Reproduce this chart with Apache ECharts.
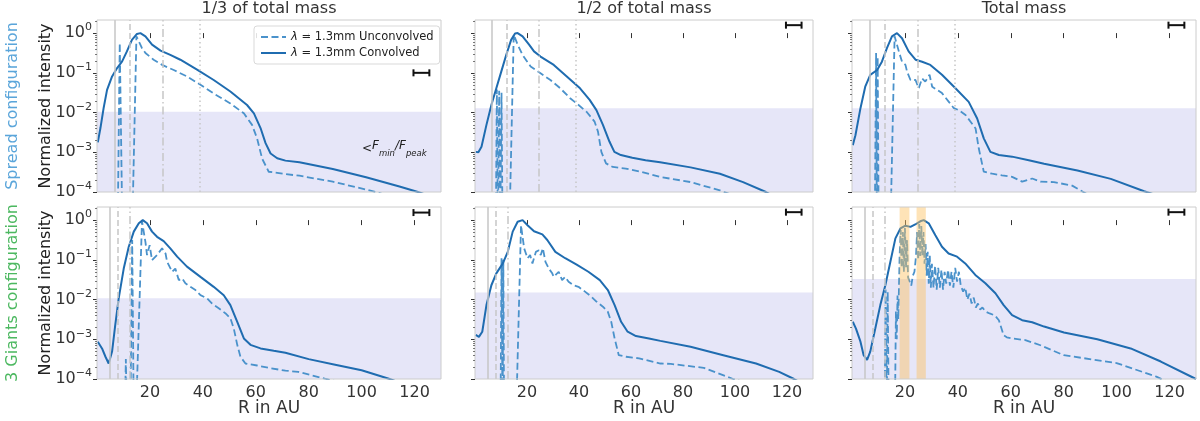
<!DOCTYPE html>
<html>
<head>
<meta charset="utf-8">
<script src="https://cdn.jsdelivr.net/npm/echarts@6/dist/echarts.min.js"></script>
<style>html,body{margin:0;padding:0;background:#fff}#main{width:1200px;height:421px}</style>
</head>
<body>
<div id="main"></div>
<script>
var chart = echarts.init(document.getElementById('main'));

// [R in AU, log10 of normalized intensity]; -5 = below the plot floor
var spreadThirdConv = [[0.3,-2.75],[1.3,-2.39],[2.5,-1.89],[3.8,-1.43],[5.7,-1.09],[7.6,-0.88],[9.5,-0.71],[11.3,-0.46],[13.2,-0.17],[15.1,-0.02],[16.4,0],[18.3,-0.08],[20.8,-0.29],[24,-0.44],[27.7,-0.55],[31.5,-0.67],[37.8,-0.92],[44.1,-1.18],[50.4,-1.47],[56.7,-1.81],[59.3,-2.02],[61.8,-2.39],[63.7,-2.77],[65.6,-3.03],[68.1,-3.15],[71.2,-3.21],[76.5,-3.25],[89.1,-3.42],[101.7,-3.63],[114.3,-3.86],[121.3,-4.0],[130,-4.2]];
var spreadThirdUnconv = [[0.3,-5],[7.8,-5],[8.6,-0.25],[9.6,-5],[13.3,-5],[14.9,-0.08],[17,-0.38],[18.3,-0.5],[21.4,-0.67],[24.6,-0.8],[29,-0.93],[34,-1.09],[39.1,-1.3],[44.1,-1.52],[50.4,-1.77],[55.5,-2.02],[58.6,-2.31],[60.5,-2.65],[62.4,-3.16],[64.9,-3.49],[68.1,-3.52],[71.2,-3.55],[76.5,-3.59],[89.1,-3.74],[105.5,-4.0],[115,-4.2]];

var spreadHalfConv = [[0.3,-2.99],[1.3,-3.0],[2.5,-2.86],[4.4,-2.31],[6.3,-1.81],[8.2,-1.39],[10.1,-0.97],[12,-0.55],[13.9,-0.17],[15.4,-0.01],[16.4,0],[18.3,-0.08],[20.8,-0.29],[22.7,-0.46],[25.2,-0.59],[30.3,-0.8],[35.3,-1.09],[40.4,-1.39],[44.1,-1.68],[46.7,-1.94],[49.2,-2.31],[51.7,-2.73],[53.6,-2.99],[56.1,-3.07],[60.5,-3.14],[65.6,-3.2],[71.2,-3.25],[82.9,-3.38],[94.2,-3.54],[103.1,-3.75],[111.9,-4.0],[120,-4.3]];
var spreadHalfUnconv = [[0.3,-5],[8.0,-5],[8.4,-1.42],[8.8,-5],[9.3,-1.45],[9.7,-5],[10.2,-1.5],[10.6,-5],[13.2,-5],[14.9,-0.04],[16.4,-0.29],[18.3,-0.55],[21.4,-0.84],[25.2,-1.01],[29,-1.18],[32.8,-1.39],[36.6,-1.64],[39.1,-1.77],[42.9,-1.98],[46,-2.23],[47.3,-2.48],[48.6,-2.99],[50.4,-3.28],[53,-3.37],[58,-3.41],[63.1,-3.48],[71.2,-3.62],[82.9,-3.75],[94.2,-3.96],[100,-4.1]];

var spreadTotalConv = [[0.3,-2.82],[1.3,-2.57],[3.2,-1.89],[5,-1.35],[6.9,-1.05],[9.5,-0.93],[11.3,-0.72],[13.2,-0.38],[15.1,-0.08],[17,0],[18.9,-0.13],[21.4,-0.46],[24,-0.67],[26.5,-0.72],[29.6,-0.8],[34,-1.05],[39.1,-1.39],[44.1,-1.73],[47.3,-2.15],[49.8,-2.65],[52.3,-2.99],[55.5,-3.07],[60.5,-3.11],[66.8,-3.2],[72.6,-3.29],[85.2,-3.46],[97.8,-3.67],[110.4,-3.98],[130,-4.4]];
var spreadTotalUnconv = [[0.3,-5],[8.6,-5],[9.1,-0.5],[9.4,-5],[9.7,-0.6],[10.1,-5],[14.5,-5],[16.1,-0.08],[17.7,-0.46],[18.9,-0.72],[20.2,-0.8],[20.8,-0.97],[22.1,-1.18],[24,-1.18],[25.2,-1.39],[26.5,-1.14],[27.7,-1.22],[29.3,-1.05],[30.3,-1.35],[32.2,-1.43],[34,-1.51],[36.6,-1.73],[38.5,-1.89],[40.4,-1.94],[42.9,-2.06],[44.8,-2.23],[46.7,-2.4],[47.9,-2.9],[49.8,-3.49],[53,-3.54],[56.7,-3.58],[60.5,-3.62],[64.3,-3.74],[68.1,-3.66],[71.2,-3.74],[76.3,-3.75],[83.2,-3.84],[86.9,-3.98],[90,-4.1]];

var giantsThirdConv = [[0.3,-3.06],[1.9,-3.23],[3.2,-3.44],[4.4,-3.61],[5.7,-3.31],[6.9,-2.64],[8.2,-1.97],[10.1,-1.22],[12,-0.67],[13.9,-0.29],[15.8,-0.08],[17.3,0],[18.9,-0.08],[20.8,-0.29],[22.7,-0.42],[25.2,-0.53],[27.7,-0.71],[30.3,-0.92],[34,-1.17],[39.1,-1.43],[44.1,-1.68],[47.9,-1.89],[50.4,-2.14],[53,-2.56],[55.5,-2.98],[58,-3.14],[61.8,-3.23],[66.8,-3.29],[71.2,-3.34],[80,-3.5],[90,-3.64],[100,-3.78],[110.6,-4.0],[121,-4.25]];
var giantsThirdUnconv = [[0.3,-5],[10.5,-5],[10.9,-3.5],[11.3,-5],[12.6,-5],[13.3,-0.5],[13.9,-5],[14.7,-5],[17,-0.03],[18.3,-0.55],[18.9,-0.88],[19.9,-0.63],[20.8,-1.01],[22.7,-0.88],[24.6,-0.71],[25.9,-0.84],[26.5,-1.05],[27.1,-1.01],[28.4,-1.3],[29.6,-1.22],[30.9,-1.51],[32.2,-1.47],[33.4,-1.59],[35.3,-1.68],[37.2,-1.76],[39.1,-1.89],[41.6,-1.97],[43.5,-2.1],[46,-2.22],[48.6,-2.35],[50.4,-2.47],[51.7,-2.73],[53,-3.14],[54.2,-3.44],[56.1,-3.61],[60.5,-3.66],[65.6,-3.73],[71.2,-3.79],[76.1,-3.82],[86.6,-4.0],[100,-4.2]];

var giantsHalfConv = [[0.3,-2.89],[1.5,-2.94],[2.8,-2.81],[4.4,-2.14],[6.3,-1.64],[8.2,-1.34],[10.7,-1.09],[12.6,-0.8],[14.5,-0.29],[16.4,-0.04],[18.3,0],[20.2,-0.13],[22.7,-0.28],[25.9,-0.36],[27.8,-0.5],[30.9,-0.8],[34.7,-0.96],[39.1,-1.12],[43.6,-1.3],[48,-1.51],[51.1,-1.76],[53.7,-2.14],[56.2,-2.56],[58.7,-2.81],[61.9,-2.92],[66.9,-2.98],[71.3,-3.04],[82.9,-3.19],[95.5,-3.4],[108.1,-3.61],[117,-3.82],[122.7,-4.0],[128,-4.2]];
var giantsHalfUnconv = [[0.3,-5],[9.8,-5],[10.2,-0.96],[10.6,-5],[10.9,-1.0],[11.2,-5],[15.8,-5],[17.7,-0.13],[18.9,-0.71],[20.2,-0.96],[21.2,-0.88],[22.1,-1.09],[23.4,-0.8],[24.6,-0.76],[25.3,-0.88],[26.1,-0.71],[27.1,-1.05],[28.4,-1.22],[29.7,-1.34],[30.3,-1.43],[32.2,-1.3],[33.5,-1.51],[34.7,-1.43],[36,-1.55],[37.9,-1.64],[39.8,-1.68],[42.3,-1.8],[44.8,-1.93],[46.7,-2.05],[49.2,-2.18],[51.1,-2.31],[52.4,-2.56],[53.7,-2.98],[55.3,-3.4],[58.1,-3.44],[63.1,-3.48],[71.3,-3.61],[75.3,-3.62],[88,-3.72],[99.3,-4.0],[110,-4.2]];

var giantsTotalConv = [[0.3,-2.56],[1.5,-2.73],[3.2,-3.06],[4.4,-3.4],[5.7,-3.52],[6.9,-3.31],[8.8,-2.73],[10.7,-2.14],[12.6,-1.64],[14.5,-1.05],[16.4,-0.46],[18.3,-0.21],[20.2,-0.14],[22.1,-0.17],[23.9,-0.11],[25.8,-0.03],[27.1,0],[29,-0.08],[31.5,-0.38],[34,-0.67],[36.5,-0.84],[39.7,-0.92],[42.8,-1.09],[46.6,-1.38],[50.4,-1.59],[54.2,-1.84],[57.3,-2.14],[60.5,-2.39],[64.3,-2.52],[68.1,-2.57],[72.6,-2.68],[80.1,-2.83],[92.7,-3.0],[105.3,-3.23],[116.7,-3.56],[130,-4.0]];
var giantsTotalUnconv = [[0.3,-5],[12.3,-5],[12.7,-1.75],[13.1,-5],[13.5,-1.8],[13.9,-5],[16.2,-5],[16.6,-2.3],[16.9,-3.0],[17.2,-1.9],[17.5,-2.5],[18.0,-0.9],[18.4,-0.25],[18.8,-1.2],[19.2,-0.3],[19.6,-1.3],[20.0,-0.2],[20.4,-1.2],[20.8,-0.5],[21.2,-1.45],[21.8,-1.5],[22.4,-1.65],[23,-1.4],[23.6,-1.3],[24.2,-0.9],[24.6,-0.3],[25.0,-1.0],[25.4,-0.1],[25.8,-0.9],[26.2,-0.15],[26.6,-0.9],[27,-0.3],[27.4,-1.1],[27.8,-0.6],[28.2,-1.4],[28.6,-0.8],[29,-1.6],[29.4,-0.9],[29.8,-1.7],[30.2,-1.1],[30.8,-1.7],[31.4,-1.15],[32,-1.75],[32.6,-1.2],[33.2,-1.7],[33.8,-1.25],[34.4,-1.75],[35,-1.3],[35.6,-1.6],[36.3,-1.25],[37,-1.65],[37.6,-1.3],[38.3,-1.7],[39,-1.2],[39.7,-1.55],[40.4,-1.3],[41.1,-1.65],[42,-1.8],[42.8,-1.7],[43.6,-2.0],[44.4,-1.85],[45.2,-2.1],[46,-1.95],[46.8,-2.2],[47.6,-2.1],[48.4,-2.25],[49.3,-2.2],[50.4,-2.3],[52,-2.35],[54,-2.4],[55.5,-2.52],[57.3,-2.9],[58.5,-2.95],[60.5,-2.98],[65.5,-3.02],[71.2,-3.15],[80,-3.4],[100,-3.6],[115,-3.94],[120,-4.1]];

// log10(F_min / F_peak) per panel
var thresholds = [-1.98, -1.89, -1.89, -1.97, -1.82, -1.48];
var planetsSpread = [6.6, 12.2, 24.7, 38.8];
var planetsGiants = [5.0, 7.9, 12.5];
var beamR = [119.6, 125.6];
var beamLevel = [-1.0, 0.2, 0.2, 0.19, 0.2, 0.2];
var gapBands = [[18.0, 21.7], [24.4, 27.9]];
var xTicks = [20, 40, 60, 80, 100, 120];
var yTicks = [-4, -3, -2, -1, 0];
var titles = ['1/3 of total mass', '1/2 of total mass', 'Total mass'];
var rowLabels = ['Spread configuration', '3 Giants configuration'];

var FONT = 'DejaVu Sans';
var nameUnconv = 'λ = 1.3mm Unconvolved';
var nameConv = 'λ = 1.3mm Convolved';
var planetDash = ['solid', [6, 3], [8, 3, 1.5, 3], [1.5, 3]];

var panels = [
  {conv: spreadThirdConv, unconv: spreadThirdUnconv, planets: planetsSpread},
  {conv: spreadHalfConv, unconv: spreadHalfUnconv, planets: planetsSpread},
  {conv: spreadTotalConv, unconv: spreadTotalUnconv, planets: planetsSpread},
  {conv: giantsThirdConv, unconv: giantsThirdUnconv, planets: planetsGiants},
  {conv: giantsHalfConv, unconv: giantsHalfUnconv, planets: planetsGiants},
  {conv: giantsTotalConv, unconv: giantsTotalUnconv, planets: planetsGiants, bands: gapBands}
];
var gridPos = [[97, 20, 344], [475, 20, 338], [852, 20, 344], [97, 207, 344], [475, 207, 338], [852, 207, 344]];
var GH = 172;

// minor log ticks (2..9 in each decade)
var minorTicks = [];
for (var d = -4; d <= 0; d++) {
  for (var k = 2; k <= 9; k++) {
    var v = d + Math.log10(k);
    if (v < 0.33) minorTicks.push(v);
  }
}

var grids = [], xAxes = [], yAxes = [], series = [], graphics = [];

panels.forEach(function (p, i) {
  var g = gridPos[i];
  grids.push({left: g[0], top: g[1], width: g[2], height: GH});
  xAxes.push({
    gridIndex: i, type: 'value', min: 0, max: 130, interval: 20,
    axisLine: {show: false}, splitLine: {show: false},
    axisTick: {customValues: xTicks, length: 5, lineStyle: {color: '#333', width: 1}},
    axisLabel: {show: i >= 3, customValues: xTicks, fontSize: 16, color: '#333', fontFamily: FONT, margin: 6}
  });
  yAxes.push({
    gridIndex: i, type: 'value', min: -4, max: 0.33, interval: 1,
    axisLine: {show: false}, splitLine: {show: false},
    axisTick: {customValues: yTicks, length: 4, lineStyle: {color: '#333', width: 1}},
    axisLabel: {
      show: i % 3 === 0, customValues: yTicks, margin: 5,
      formatter: function (val) {
        var e = Math.round(val);
        return '{b|10}{sup|' + (e < 0 ? '−' + (-e) : e) + '}';
      },
      rich: {
        b: {fontSize: 16, fontFamily: FONT, color: '#333', lineHeight: 22},
        sup: {fontSize: 11, fontFamily: FONT, color: '#333', verticalAlign: 'top'}
      }
    }
  });

  // shading + planet positions
  series.push({
    type: 'line', xAxisIndex: i, yAxisIndex: i, data: [], silent: true,
    markArea: {silent: true, z: 1, itemStyle: {color: '#e6e6f8'}, data: [[{yAxis: -4}, {yAxis: thresholds[i]}]]},
    markLine: {
      silent: true, symbol: 'none', label: {show: false}, animation: false,
      data: p.planets.map(function (r, k) {
        return {xAxis: r, lineStyle: {color: '#c6c6c6', width: 1.5, type: planetDash[k]}};
      })
    }
  });
  series.push({
    name: nameUnconv, type: 'line', xAxisIndex: i, yAxisIndex: i, data: p.unconv,
    symbol: 'none', z: 3, itemStyle: {color: '#4a92cb'},
    lineStyle: {color: '#4a92cb', width: 1.8, type: [7, 3.5]}
  });
  series.push({
    name: nameConv, type: 'line', xAxisIndex: i, yAxisIndex: i, data: p.conv,
    symbol: 'none', z: 4, itemStyle: {color: '#1f6cb0'},
    lineStyle: {color: '#1f6cb0', width: 2}
  });
  if (p.bands) {
    series.push({
      type: 'line', xAxisIndex: i, yAxisIndex: i, data: [], silent: true, z: 6,
      markArea: {silent: true, z: 6, itemStyle: {color: 'rgba(252,192,95,0.45)'},
        data: p.bands.map(function (b) { return [{xAxis: b[0]}, {xAxis: b[1]}]; })}
    });
  }
  // beam size bar
  series.push({
    type: 'custom', xAxisIndex: i, yAxisIndex: i, silent: true, z: 7,
    encode: {x: [0, 1], y: 2},
    data: [[beamR[0], beamR[1], beamLevel[i]]],
    renderItem: function (params, api) {
      var a = api.coord([api.value(0), api.value(2)]);
      var b = api.coord([api.value(1), api.value(2)]);
      var st = {stroke: '#111', lineWidth: 2};
      return {type: 'group', children: [
        {type: 'line', shape: {x1: a[0], y1: a[1], x2: b[0], y2: b[1]}, style: st},
        {type: 'line', shape: {x1: a[0], y1: a[1] - 3.5, x2: a[0], y2: a[1] + 3.5}, style: st},
        {type: 'line', shape: {x1: b[0], y1: b[1] - 3.5, x2: b[0], y2: b[1] + 3.5}, style: st}
      ]};
    }
  });

  graphics.push({
    type: 'rect', silent: true, z: 100,
    shape: {x: g[0], y: g[1], width: g[2], height: GH},
    style: {fill: 'none', stroke: '#cccccc', lineWidth: 1}
  });
  // minor y ticks
  minorTicks.forEach(function (m) {
    var frac = (0.33 - m) / 4.33;
    var yy = Math.round(g[1] + frac * GH) + 0.5;
    graphics.push({type: 'line', silent: true, z: 100,
      shape: {x1: g[0] - 2, y1: yy, x2: g[0], y2: yy}, style: {stroke: '#555', lineWidth: 0.8}});
  });
});

// titles and axis names
[0, 1, 2].forEach(function (c) {
  var cx = gridPos[c][0] + gridPos[c][2] / 2;
  graphics.push({type: 'text', x: cx, y: 1, silent: true,
    style: {text: titles[c], font: '16px "DejaVu Sans"', fill: '#333', align: 'center', verticalAlign: 'top'}});
  graphics.push({type: 'text', x: cx, y: 409, silent: true,
    style: {text: 'R in AU', font: '17px "DejaVu Sans"', fill: '#333', align: 'center', verticalAlign: 'middle'}});
});
[0, 1].forEach(function (r) {
  var cy = gridPos[r * 3][1] + GH / 2;
  graphics.push({type: 'text', x: 46, y: cy, rotation: Math.PI / 2, silent: true,
    style: {text: 'Normalized intensity', font: '16px "DejaVu Sans"', fill: '#222', align: 'center', verticalAlign: 'middle'}});
  graphics.push({type: 'text', x: 13, y: cy, rotation: Math.PI / 2, silent: true,
    style: {text: rowLabels[r], font: '16px "DejaVu Sans"', fill: r === 0 ? '#5aa5da' : '#4cb860', align: 'center', verticalAlign: 'middle'}});
});
graphics.push({type: 'text', x: 362, y: 149, silent: true, z: 50,
  style: {
    text: '<{i|F}{s|min}{i|/F}{s|peak}', font: '12px "DejaVu Sans"', fill: '#222', verticalAlign: 'middle',
    rich: {
      i: {fontStyle: 'italic', fontSize: 12, fontFamily: FONT, lineHeight: 18, verticalAlign: 'top'},
      s: {fontStyle: 'italic', fontSize: 8.5, fontFamily: FONT, verticalAlign: 'bottom'}
    }
  }});

option = {
  backgroundColor: '#ffffff',
  animation: false,
  grid: grids,
  xAxis: xAxes,
  yAxis: yAxes,
  legend: {
    left: 254, top: 26, orient: 'vertical', selectedMode: false,
    data: [nameUnconv, nameConv],
    itemWidth: 25, itemHeight: 10, itemGap: 4,
    padding: [5, 6, 5, 6],
    borderColor: '#d9d9d9', borderWidth: 1, borderRadius: 3,
    backgroundColor: 'rgba(255,255,255,0.85)',
    itemStyle: {opacity: 0},
    textStyle: {fontFamily: FONT, fontSize: 11.5, color: '#222',
      rich: {i: {fontStyle: 'italic', fontFamily: FONT, fontSize: 11.5, color: '#222'}}},
    formatter: function (n) { return '{i|λ}' + n.slice(1); }
  },
  graphic: graphics,
  series: series
};

chart.setOption(option);
window.addEventListener('resize', function () {
  chart.resize();
});
</script>
</body>
</html>
